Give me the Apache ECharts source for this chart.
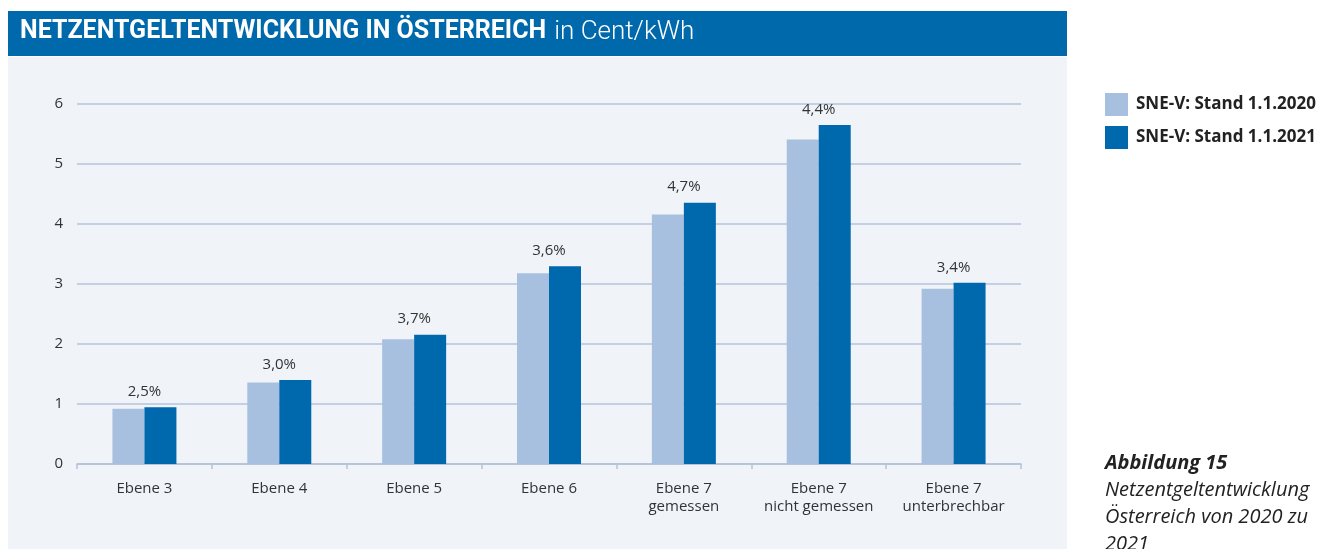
<!DOCTYPE html>
<html>
<head>
<meta charset="utf-8">
<script src="https://cdn.jsdelivr.net/npm/echarts@6/dist/echarts.min.js"></script>
<style>
    html, body { margin: 0; padding: 0; background: #fff; }
    #chart { width: 1338px; height: 549px; }
</style>
</head>
<body>
<div id="chart"></div>
<script>
// Daten
var categories = ['Ebene 3', 'Ebene 4', 'Ebene 5', 'Ebene 6', 'Ebene 7\ngemessen', 'Ebene 7\nnicht gemessen', 'Ebene 7\nunterbrechbar'];
var stand2020 = [0.92, 1.36, 2.08, 3.18, 4.16, 5.41, 2.92];
var stand2021 = [0.945, 1.40, 2.155, 3.295, 4.355, 5.65, 3.02];
var changes = ['2,5%', '3,0%', '3,7%', '3,6%', '4,7%', '4,4%', '3,4%'];
var yTicks = [0, 1, 2, 3, 4, 5, 6];

var myChart;

window.onload = function () {
    myChart = echarts.init(document.getElementById('chart'));
    drawBar();
}

function drawBar() {
    var option = {
        animation: false,
        textStyle: { fontFamily: 'Open Sans' },
        graphic: [
            // Hintergrund
            { type: 'rect', z: -10, shape: { x: 8, y: 57, width: 1059, height: 492 }, style: { fill: '#f0f4f9' } },
            { type: 'rect', z: -10, shape: { x: 8, y: 11, width: 1059, height: 45 }, style: { fill: '#0069ab' } },
            {
                type: 'text', left: 20, top: 19,
                style: {
                    text: '{b|NETZENTGELTENTWICKLUNG IN ÖSTERREICH}{s| }{r|in Cent/kWh}',
                    rich: {
                        b: { fontFamily: 'Roboto', fontWeight: 'bold', fontSize: 25, fill: '#fff' },
                        s: { fontFamily: 'Roboto', fontSize: 25, width: 8 },
                        r: { fontFamily: 'Roboto', fontWeight: 300, fontSize: 26, fill: '#fff' }
                    }
                }
            },
            // Bildunterschrift
            { type: 'text', left: 1105, top: 453, style: { text: 'Abbildung 15', font: 'italic bold 20px "Open Sans"', fill: '#222' } },
            { type: 'text', left: 1105, top: 480, style: { text: 'Netzentgeltentwicklung', font: 'italic 20px "Open Sans"', fill: '#222' } },
            { type: 'text', left: 1105, top: 507, style: { text: 'Österreich von 2020 zu', font: 'italic 20px "Open Sans"', fill: '#222' } },
            { type: 'text', left: 1105, top: 534, style: { text: '2021', font: 'italic 20px "Open Sans"', fill: '#222' } }
        ],
        legend: {
            orient: 'vertical',
            left: 1100,
            top: 88,
            itemWidth: 23,
            itemHeight: 23,
            itemGap: 10,
            icon: 'rect',
            textStyle: { fontSize: 17, fontWeight: 'bold', color: '#222', padding: [0, 0, 0, 3] },
            data: ['SNE-V: Stand 1.1.2020', 'SNE-V: Stand 1.1.2021']
        },
        grid: { left: 77, right: 317, top: 104, bottom: 85 },
        xAxis: {
            type: 'category',
            data: categories,
            axisLine: { lineStyle: { color: '#b4c1da', width: 1.5 } },
            axisTick: { show: true, length: 5, lineStyle: { color: '#b4c1da', width: 1.5 } },
            axisLabel: { interval: 0, color: '#333', fontSize: 15, margin: 16, lineHeight: 18 }
        },
        yAxis: {
            type: 'value',
            min: yTicks[0],
            max: yTicks[yTicks.length - 1],
            interval: 1,
            axisLine: { show: false },
            axisTick: { show: false },
            axisLabel: { color: '#333', fontSize: 15, margin: 14 },
            splitLine: { lineStyle: { color: '#b7c3db', width: 1.5 } }
        },
        series: [{
            name: 'SNE-V: Stand 1.1.2020',
            type: 'bar',
            barWidth: 32,
            barGap: '0%',
            itemStyle: { color: '#a8c0e0' },
            data: stand2020
        }, {
            name: 'SNE-V: Stand 1.1.2021',
            type: 'bar',
            barWidth: 32,
            itemStyle: { color: '#0069ad' },
            label: {
                show: true,
                position: 'top',
                distance: 8,
                offset: [-16, 0],
                color: '#333',
                fontSize: 15,
                formatter: function (p) { return changes[p.dataIndex]; }
            },
            data: stand2021
        }]
    };

    myChart.setOption(option);
}
</script>
</body>
</html>
